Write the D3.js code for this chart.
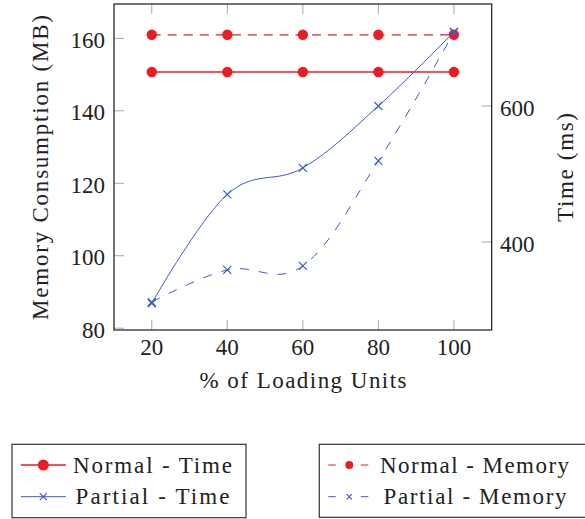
<!DOCTYPE html>
<meta charset="utf-8">
<style>
body { margin: 0; background: #fff; }
text { font-family: "Liberation Serif", "Times New Roman", serif; fill: #222; }
</style>
<body>
<script src="https://cdn.jsdelivr.net/npm/d3@7"></script>
<script>

var w = 585;
var h = 519;

// data
var units = [20, 40, 60, 80, 100];
var normalTime = [650, 650, 650, 650, 650];
var partialTime = [310, 470, 509, 600, 709];
var normalMemory = [161, 161, 161, 161, 161];
var partialMemory = [87.2, 96.1, 97.2, 126.2, 161.7];

var memTicks = [80, 100, 120, 140, 160];
var timeTicks = [400, 600];

var red = "#ec1c24";
var blue = "#3d5ebd";

var pLeft = 114, pRight = 491.7, pTop = 4, pBottom = 330;
var fs = "23px";

var svg = d3.select("body")
	.append("svg")
	.attr("width", w)
	.attr("height", h);

var x = d3.scaleLinear().domain([10, 110]).range([pLeft, pRight]);
var yMem = d3.scaleLinear().domain([79.5, 169.5]).range([pBottom, pTop]);
var yTime = d3.scaleLinear().domain([270.6, 750]).range([pBottom, pTop]);

// ticks (inside, gray)
var tickLen = 10;
var tickG = svg.append("g").attr("stroke", "#a8a8a8").attr("stroke-width", 1);
units.forEach(function(u) {
	tickG.append("line").attr("x1", x(u)).attr("x2", x(u)).attr("y1", pBottom).attr("y2", pBottom - tickLen);
	tickG.append("line").attr("x1", x(u)).attr("x2", x(u)).attr("y1", pTop).attr("y2", pTop + tickLen);
});
memTicks.forEach(function(t) {
	tickG.append("line").attr("x1", pLeft).attr("x2", pLeft + tickLen).attr("y1", yMem(t)).attr("y2", yMem(t));
});
timeTicks.forEach(function(t) {
	tickG.append("line").attr("x1", pRight).attr("x2", pRight - tickLen).attr("y1", yTime(t)).attr("y2", yTime(t));
});

// tick labels
svg.selectAll(".xl").data(units).enter().append("text")
	.attr("x", function(d) { return x(d); })
	.attr("y", 355)
	.attr("text-anchor", "middle")
	.style("font-size", fs)
	.text(function(d) { return d; });
svg.selectAll(".ml").data(memTicks).enter().append("text")
	.attr("x", 105)
	.attr("y", function(d) { return yMem(d) + 2; })
	.attr("text-anchor", "end")
	.attr("dominant-baseline", "central")
	.style("font-size", fs)
	.text(function(d) { return d; });
svg.selectAll(".tl").data(timeTicks).enter().append("text")
	.attr("x", 500)
	.attr("y", function(d) { return yTime(d) + 2; })
	.attr("dominant-baseline", "central")
	.style("font-size", fs)
	.text(function(d) { return d; });

// axis titles
svg.append("text")
	.attr("transform", "translate(48,167.5) rotate(-90)")
	.attr("text-anchor", "middle")
	.attr("textLength", 305)
	.style("font-size", fs)
	.text("Memory Consumption (MB)");
svg.append("text")
	.attr("transform", "translate(573,167.5) rotate(-90)")
	.attr("text-anchor", "middle")
	.attr("textLength", 109)
	.style("font-size", fs)
	.text("Time (ms)");
svg.append("text")
	.attr("x", 303)
	.attr("y", 388)
	.attr("text-anchor", "middle")
	.attr("textLength", 207)
	.style("font-size", fs)
	.text("% of Loading Units");

// series
var series = [
	{ vals: normalMemory, y: yMem, color: red, dash: "9,7", mark: "circle", width: 1.2 },
	{ vals: partialMemory, y: yMem, color: blue, dash: "9,10", mark: "cross", width: 1 },
	{ vals: normalTime, y: yTime, color: red, dash: null, mark: "circle", width: 1.3 },
	{ vals: partialTime, y: yTime, color: blue, dash: null, mark: "cross", width: 1 }
];

function drawMark(g, type, cx, cy, size, color) {
	if (type == "circle") {
		g.append("circle").attr("cx", cx).attr("cy", cy).attr("r", size).attr("fill", color);
	} else {
		g.append("path")
			.attr("d", "M" + (cx - size) + "," + (cy - size) + "L" + (cx + size) + "," + (cy + size) +
				"M" + (cx - size) + "," + (cy + size) + "L" + (cx + size) + "," + (cy - size))
			.attr("stroke", color).attr("stroke-width", 1.2).attr("fill", "none");
	}
}

series.forEach(function(s) {
	var line = d3.line()
		.x(function(d, i) { return x(units[i]); })
		.y(function(d) { return s.y(d); })
		.curve(d3.curveCardinal.tension(-0.1));
	svg.append("path")
		.attr("d", line(s.vals))
		.attr("fill", "none")
		.attr("stroke", s.color)
		.attr("stroke-width", s.width)
		.attr("stroke-dasharray", s.dash);
});
series.forEach(function(s) {
	s.vals.forEach(function(v, i) {
		drawMark(svg, s.mark, x(units[i]), s.y(v), s.mark == "circle" ? 5.2 : 4, s.color);
	});
});

// frame
svg.append("rect")
	.attr("x", pLeft).attr("y", pTop)
	.attr("width", pRight - pLeft).attr("height", pBottom - pTop)
	.attr("fill", "none").attr("stroke", "#1a1a1a").attr("stroke-width", 1.2);

// legends
var legends = [
	{ box: [12, 444.3, 234, 73.4], x0: 21, x1: 66, mx: 43.3, msize: [5.5, 3.5],
		items: [
			{ label: "Normal - Time", s: series[2], len: 159, tx: 73 },
			{ label: "Partial - Time", s: series[3], len: 154, tx: 75.5 }
		], dash: null },
	{ box: [319.3, 444.3, 300, 73], x0: 328.3, x1: 368.3, mx: 349.3, msize: [4, 2.6],
		items: [
			{ label: "Normal - Memory", s: series[0], len: 189, tx: 380 },
			{ label: "Partial - Memory", s: series[1], len: 183, tx: 383.5 }
		], dash: "7.5,25" }
];
var rowY = [465, 496.7];

legends.forEach(function(L) {
	svg.append("rect")
		.attr("x", L.box[0]).attr("y", L.box[1])
		.attr("width", L.box[2]).attr("height", L.box[3])
		.attr("fill", "none").attr("stroke", "#333").attr("stroke-width", 1.2);
	L.items.forEach(function(it, i) {
		var yy = rowY[i];
		svg.append("line")
			.attr("x1", L.x0).attr("x2", L.x1).attr("y1", yy).attr("y2", yy)
			.attr("stroke", it.s.color).attr("stroke-width", it.s.width)
			.attr("stroke-dasharray", L.dash);
		drawMark(svg, it.s.mark, L.mx, yy, it.s.mark == "circle" ? L.msize[0] : L.msize[1], it.s.color);
		svg.append("text")
			.attr("x", it.tx).attr("y", yy)
			.attr("dominant-baseline", "central")
			.attr("textLength", it.len)
			.style("font-size", fs)
			.text(it.label);
	});
});

</script>
</body>
